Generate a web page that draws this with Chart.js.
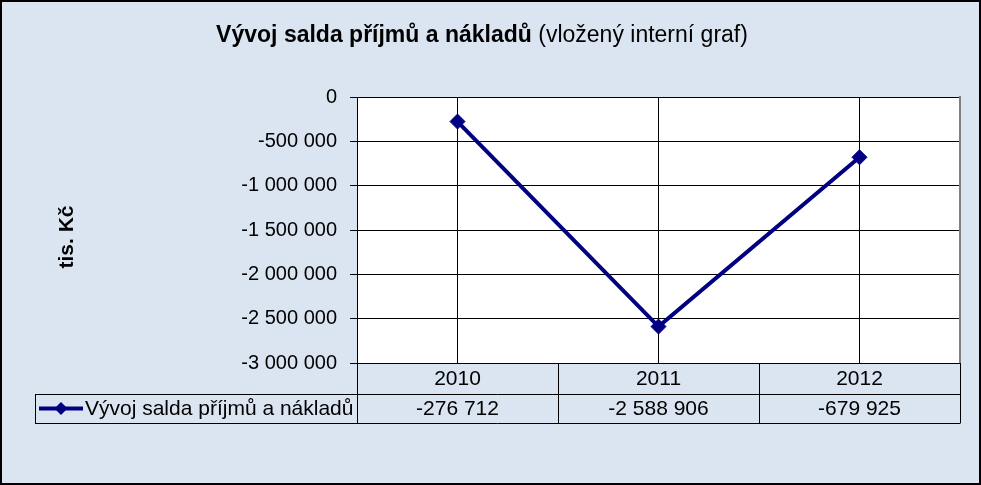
<!DOCTYPE html>
<html lang="cs">
<head>
<meta charset="utf-8">
<title>Vývoj salda příjmů a nákladů</title>
<script src="https://cdn.jsdelivr.net/npm/chart.js@4.4.1/dist/chart.umd.min.js"></script>
<style>
  html, body { margin: 0; padding: 0; background: #dbe5f1; }
  canvas { display: block; }
</style>
</head>
<body>
<canvas id="saldoChart" width="981" height="485"></canvas>
<script>
// data
const years = ["2010", "2011", "2012"];
const saldo = [-276712, -2588906, -679925];
const seriesName = "Vývoj salda příjmů a nákladů";
const titleBold = "Vývoj salda příjmů a nákladů";
const titleRest = " (vložený interní graf)";
const yTitle = "tis. Kč";
const yMin = -3000000;
const yMax = 0;
const yStep = 500000;

const FONT = '"Liberation Sans", Arial, sans-serif';
const NAVY = "#000080";

// cislo s mezerami po tisicich
function fmt(v) {
  const s = Math.abs(Math.round(v)).toString().replace(/\B(?=(\d{3})+(?!\d))/g, " ");
  return (v < 0 ? "-" : "") + s;
}

// pozadi, ramecek, tabulka a nadpisy
const tablePlugin = {
  id: "tablePlugin",
  beforeDraw(chart) {
    const ctx = chart.ctx;
    const a = chart.chartArea;
    ctx.save();
    ctx.fillStyle = "#dbe5f1";
    ctx.fillRect(0, 0, chart.width, chart.height);
    ctx.fillStyle = "#ffffff";
    ctx.fillRect(a.left, a.top, a.right - a.left, a.bottom - a.top);
    ctx.restore();
  },
  afterDraw(chart) {
    const ctx = chart.ctx;
    const a = chart.chartArea;
    const xs = chart.scales.x;
    const colW = (a.right - a.left) / years.length;
    const r1 = a.bottom, r2 = a.bottom + 31, r3 = a.bottom + 60;
    const legLeft = 35;

    ctx.save();
    // pravy okraj plochy grafu
    ctx.strokeStyle = "#808080";
    ctx.lineWidth = 2;
    ctx.beginPath();
    ctx.moveTo(a.right, a.top - 1);
    ctx.lineTo(a.right, a.bottom);
    ctx.stroke();

    // mrizka tabulky
    ctx.strokeStyle = "#000";
    ctx.lineWidth = 1;
    ctx.beginPath();
    ctx.moveTo(legLeft, r2 + 0.5); ctx.lineTo(a.right, r2 + 0.5);
    ctx.moveTo(legLeft, r3 + 0.5); ctx.lineTo(a.right, r3 + 0.5);
    ctx.moveTo(legLeft + 0.5, r2); ctx.lineTo(legLeft + 0.5, r3);
    for (let i = 0; i <= years.length; i++) {
      const x = Math.round(a.left + i * colW) + 0.5;
      ctx.moveTo(x, r1); ctx.lineTo(x, r3 + 0.5);
    }
    ctx.stroke();

    // texty tabulky
    ctx.fillStyle = "#000";
    ctx.font = "21px " + FONT;
    ctx.textAlign = "center";
    ctx.textBaseline = "middle";
    years.forEach((y, i) => {
      const cx = xs.getPixelForValue(i);
      ctx.fillText(y, cx, (r1 + r2) / 2 + 1);
      ctx.fillText(fmt(saldo[i]), cx, (r2 + r3) / 2 + 1);
    });

    // legenda v tabulce
    const ly = (r2 + r3) / 2;
    ctx.strokeStyle = NAVY;
    ctx.lineWidth = 4;
    ctx.beginPath();
    ctx.moveTo(39, ly); ctx.lineTo(83, ly);
    ctx.stroke();
    ctx.fillStyle = NAVY;
    Chart.helpers.drawPoint(ctx, { pointStyle: "rectRot", radius: 6.5, borderWidth: 0 }, 61, ly);
    ctx.fillStyle = "#000";
    ctx.textAlign = "left";
    ctx.fillText(seriesName, 85, ly + 1);

    // nadpis
    ctx.font = "bold 23px " + FONT;
    const wb = ctx.measureText(titleBold).width;
    ctx.font = "23px " + FONT;
    const wr = ctx.measureText(titleRest).width;
    let tx = 482 - (wb + wr) / 2;
    ctx.textBaseline = "alphabetic";
    ctx.font = "bold 23px " + FONT;
    ctx.fillText(titleBold, tx, 42);
    ctx.font = "23px " + FONT;
    ctx.fillText(titleRest, tx + wb, 42);

    // nazev osy y
    ctx.translate(67, 237);
    ctx.rotate(-Math.PI / 2);
    ctx.font = "bold 21px " + FONT;
    ctx.textAlign = "center";
    ctx.textBaseline = "middle";
    ctx.fillText(yTitle, 0, 0);
    ctx.setTransform(1, 0, 0, 1, 0, 0);

    // vnejsi ramecek
    ctx.strokeStyle = "#000";
    ctx.lineWidth = 2;
    ctx.strokeRect(1, 1, chart.width - 2, chart.height - 2);
    ctx.restore();
  }
};

const ctx = document.getElementById("saldoChart").getContext("2d");
new Chart(ctx, {
  type: "line",
  data: {
    labels: years,
    datasets: [
      {
        label: seriesName,
        data: saldo,
        borderColor: NAVY,
        backgroundColor: NAVY,
        borderWidth: 4,
        pointStyle: "rectRot",
        pointRadius: 7.5,
        pointBorderWidth: 1,
        tension: 0,
        clip: false,
      },
    ],
  },
  options: {
    responsive: false,
    animation: false,
    events: [],
    layout: {
      padding: { left: 0, right: 21, top: 97, bottom: 122 },
    },
    plugins: {
      legend: { display: false },
      title: { display: false },
      tooltip: { enabled: false },
    },
    scales: {
      x: {
        offset: true,
        ticks: { display: false },
        grid: { color: "#000", lineWidth: 1, drawTicks: false, offset: false },
        border: { display: true, color: "#000", width: 1 },
        afterFit: (s) => { s.height = 0; },
      },
      y: {
        min: yMin,
        max: yMax,
        ticks: {
          stepSize: yStep,
          color: "#000",
          padding: 13,
          font: { family: FONT, size: 20 },
          callback: (v) => fmt(v),
        },
        grid: { color: "#000", lineWidth: 1, tickLength: 7 },
        border: { display: true, color: "#000", width: 1 },
        afterFit: (s) => { s.width = 357; },
      },
    },
  },
  plugins: [tablePlugin],
});
</script>
</body>
</html>
